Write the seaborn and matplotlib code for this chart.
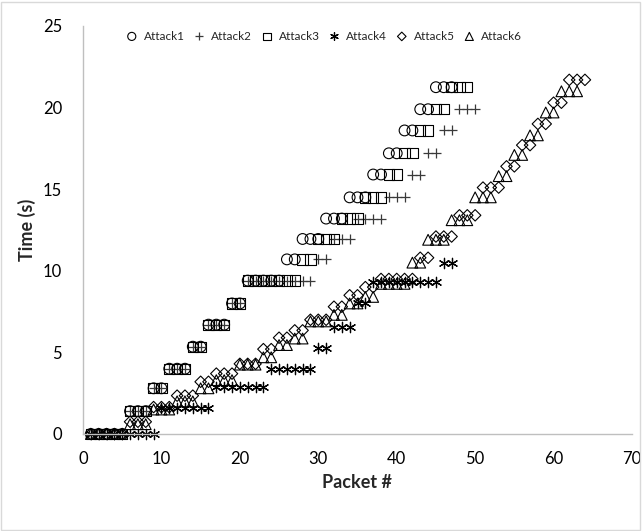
import matplotlib
matplotlib.use("Agg")
import matplotlib.pyplot as plt
import seaborn as sns
import pandas as pd
from matplotlib.patches import Rectangle

# packet numbers (x axis), shared by all series
packet_ids = [1, 2, 3, 4, 5, 6, 7, 8, 9, 10, 11, 12, 13, 14, 15, 16, 17, 18, 19, 20,
              21, 22, 23, 24, 25, 26, 27, 28, 29, 30, 31, 32, 33, 34, 35, 36, 37, 38, 39, 40,
              41, 42, 43, 44, 45, 46, 47, 48, 49, 50, 51, 52, 53, 54, 55, 56, 57, 58, 59, 60,
              61, 62, 63, 64]

# time (s) of each packet
attack1_time = [0, 0, 0, 0, 0, 1.4, 1.4, 1.4, 2.8, 2.8, 4.0, 4.0, 4.0, 5.35, 5.35,
                6.7, 6.7, 6.7, 8.0, 8.0, 9.4, 9.4, 9.4, 9.4, 9.4, 10.7, 10.7,
                11.95, 11.95, 11.95, 13.2, 13.2, 13.2, 14.5, 14.5, 14.5, 15.9, 15.9,
                17.2, 17.2, 18.6, 18.6, 19.9, 19.9, 21.25, 21.25, 21.25]
attack2_time = [0, 0, 0, 0, 0, 1.4, 1.4, 1.4, 2.8, 2.8, 4.0, 4.0, 4.0, 5.35, 5.35,
                6.7, 6.7, 6.7, 8.0, 8.0, 9.4, 9.4, 9.4, 9.4, 9.4, 9.4, 9.4, 9.4, 9.4,
                10.7, 10.7, 11.95, 11.95, 11.95, 13.2, 13.2, 13.2, 13.2,
                14.5, 14.5, 14.5, 15.9, 15.9, 17.2, 17.2, 18.6, 18.6, 19.9, 19.9, 19.9]
attack3_time = [0, 0, 0, 0, 0, 1.4, 1.4, 1.4, 2.8, 2.8, 4.0, 4.0, 4.0, 5.35, 5.35,
                6.7, 6.7, 6.7, 8.0, 8.0, 9.4, 9.4, 9.4, 9.4, 9.4, 9.4, 9.4, 10.7, 10.7,
                11.95, 11.95, 11.95, 13.2, 13.2, 13.2, 14.5, 14.5, 14.5, 15.9, 15.9,
                17.2, 17.2, 18.6, 18.6, 19.9, 19.9, 21.25, 21.25, 21.25]
attack4_time = [0, 0, 0, 0, 0, 0, 0, 0, 0, 1.6, 1.6, 1.6, 1.6, 1.6, 1.6, 1.6,
                2.9, 2.9, 2.9, 2.9, 2.9, 2.9, 2.9, 4.0, 4.0, 4.0, 4.0, 4.0, 4.0,
                5.3, 5.3, 6.55, 6.55, 6.55, 8.0, 8.0,
                9.3, 9.3, 9.3, 9.3, 9.3, 9.3, 9.3, 9.3, 9.3, 10.5, 10.5]
attack5_time = [0, 0, 0, 0, 0, 0.75, 0.75, 0.75, 1.65, 1.65, 1.65, 2.35, 2.35, 2.35,
                3.2, 3.2, 3.7, 3.7, 3.7, 4.3, 4.3, 4.3, 5.2, 5.2, 5.9, 5.9, 6.35, 6.35,
                7.0, 7.0, 7.0, 7.8, 7.8, 8.5, 8.5, 9.0, 9.0, 9.5, 9.5, 9.5, 9.5, 9.5,
                10.8, 10.8, 12.1, 12.1, 12.1, 13.4, 13.4, 13.4, 15.1, 15.1, 15.1,
                16.4, 16.4, 17.7, 17.7, 19.0, 19.0, 20.3, 20.3, 21.7, 21.7, 21.7]
attack6_time = [0, 0, 0, 0, 0, 0.6, 0.6, 0.6, 1.5, 1.5, 1.5, 2.0, 2.0, 2.0,
                2.8, 2.8, 3.3, 3.3, 3.3, 4.25, 4.25, 4.25, 4.7, 4.7, 5.45, 5.45, 5.85, 5.85,
                6.9, 6.9, 6.9, 7.3, 7.3, 8.0, 8.0, 8.4, 8.4, 9.2, 9.2, 9.2, 9.2,
                10.5, 10.5, 11.9, 11.9, 11.9, 13.1, 13.1, 13.1, 14.5, 14.5, 14.5,
                15.8, 15.8, 17.1, 17.1, 18.3, 18.3, 19.7, 19.7, 21.0, 21.0, 21.0]

series_names = ["Attack1", "Attack2", "Attack3", "Attack4", "Attack5", "Attack6"]
series_times = [attack1_time, attack2_time, attack3_time, attack4_time, attack5_time, attack6_time]
series_markers = ["o", "+", "s", (6, 2, 0), "D", "^"]
series_sizes = [60, 60, 55, 55, 34, 60]

x_ticks = [0, 10, 20, 30, 40, 50, 60, 70]
y_ticks = [0, 5, 10, 15, 20, 25]

sns.set_style("white")
plt.rcParams["font.family"] = ["Lato", "DejaVu Sans"]

fig = plt.figure(figsize=(6.43, 5.31), dpi=100)
fig.patches.append(Rectangle((0.002, 0.002), 0.994, 0.994, transform=fig.transFigure,
                             fill=False, edgecolor="#d9d9d9", linewidth=1))
ax = fig.add_axes([83 / 643, 1 - 434 / 531, 549 / 643, 408 / 531])

for name, times, marker, size in zip(series_names, series_times, series_markers, series_sizes):
    df = pd.DataFrame({"packet": packet_ids[:len(times)], "time": times})
    if marker in ["+", (6, 2, 0)]:
        col = "#3a3a3a" if marker == "+" else "black"
        sns.scatterplot(data=df, x="packet", y="time", marker=marker, s=size,
                        color=col, linewidth=0.9, label=name, ax=ax, clip_on=False)
    else:
        sns.scatterplot(data=df, x="packet", y="time", marker=marker, s=size,
                        color="none", edgecolor="black", linewidth=0.8,
                        label=name, ax=ax, clip_on=False)

ax.set_xlim(0, 70)
ax.set_ylim(0, 25)
ax.set_xticks(x_ticks)
ax.set_yticks(y_ticks)
ax.tick_params(length=0, labelsize=12, colors="black")
ax.tick_params(axis="y", pad=15)
ax.tick_params(axis="x", pad=12)

for side in ["top", "right"]:
    ax.spines[side].set_visible(False)
for side in ["left", "bottom"]:
    ax.spines[side].set_color("#bfbfbf")
    ax.spines[side].set_linewidth(1)

ax.set_xlabel("Packet #", fontsize=13, fontweight="bold", labelpad=5)
ax.set_ylabel("Time (s)", fontsize=13, fontweight="bold", labelpad=5)

ax.legend(loc="center", bbox_to_anchor=(324 / 643, 1 - 36 / 531),
          bbox_transform=fig.transFigure, ncol=6, frameon=False, fontsize=8.5,
          handlelength=1.0, handletextpad=0.5, columnspacing=0.75, markerscale=0.75)

fig.savefig("out.png", dpi=100)
